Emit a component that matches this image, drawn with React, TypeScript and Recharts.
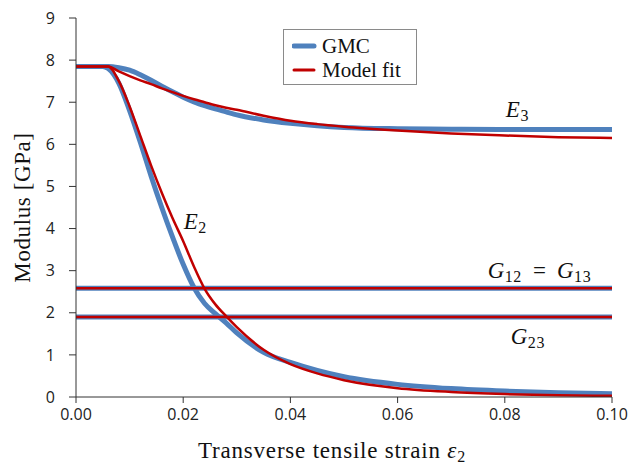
import React from 'react';
import { LineChart, Line, XAxis, YAxis, Legend, ReferenceDot } from 'recharts';

// strain grid (transverse tensile strain ε2)
const strain = [0, 0.005, 0.006, 0.008, 0.01, 0.012, 0.014, 0.016, 0.018, 0.02, 0.022, 0.024, 0.026, 0.028, 0.03, 0.035, 0.04, 0.045, 0.05, 0.06, 0.07, 0.08, 0.09, 0.1];
// GMC results
const gmcE2 = [7.85, 7.85, 7.8, 7.45, 6.8, 6.05, 5.25, 4.5, 3.8, 3.15, 2.6, 2.22, 1.98, 1.76, 1.52, 1.06, 0.82, 0.63, 0.48, 0.3, 0.2, 0.14, 0.1, 0.08];
const gmcE3 = [7.85, 7.85, 7.85, 7.82, 7.76, 7.65, 7.52, 7.38, 7.25, 7.12, 7.01, 6.92, 6.84, 6.77, 6.7, 6.58, 6.5, 6.44, 6.4, 6.37, 6.36, 6.35, 6.35, 6.35];
// Model fit
const fitE2 = [7.85, 7.85, 7.85, 7.5, 6.9, 6.2, 5.5, 4.85, 4.25, 3.7, 3.1, 2.57, 2.2, 1.92, 1.66, 1.12, 0.78, 0.56, 0.4, 0.21, 0.12, 0.07, 0.04, 0.03];
const fitE3 = [7.85, 7.85, 7.85, 7.73, 7.62, 7.52, 7.43, 7.33, 7.24, 7.15, 7.07, 7.0, 6.93, 6.87, 6.82, 6.68, 6.56, 6.48, 6.42, 6.33, 6.26, 6.21, 6.17, 6.15];
// shear moduli (constant)
const gmcG12 = 2.58;
const gmcG23 = 1.9;
const fitG12 = 2.58;
const fitG23 = 1.9;

const xTicks = [0, 0.02, 0.04, 0.06, 0.08, 0.1];
const yTicks = [0, 1, 2, 3, 4, 5, 6, 7, 8, 9];
const seriesNames = ['GMC', 'Model fit'];

const data = strain.map((s, i) => ({
  s,
  gmcE2: gmcE2[i],
  gmcE3: gmcE3[i],
  fitE2: fitE2[i],
  fitE3: fitE3[i],
  gmcG12,
  gmcG23,
  fitG12,
  fitG23,
}));

const BLUE = '#4F81BD';
const RED = '#C00000';
const SERIF = '"Liberation Serif", "Times New Roman", serif';
const SANS = '"Open Sans", "Noto Sans", sans-serif';

const mathLabel = (main: string, sub: string, rest?: { main: string; sub: string }) => (props: any) => {
  const vb = props.viewBox || {};
  const x = (vb.x ?? 0) + (vb.width ?? 0) / 2;
  const y = (vb.y ?? 0) + (vb.height ?? 0) / 2;
  return (
    <text x={x} y={y} fontFamily={SERIF} fontSize={23} fill="#111" textAnchor="start">
      <tspan fontStyle="italic">{main}</tspan>
      <tspan fontSize={16} dy={4} dx={0.5} letterSpacing={0.6}>{sub}</tspan>
      {rest ? (
        <>
          <tspan dy={-4} dx={11}>=</tspan>
          <tspan fontStyle="italic" dx={11}>{rest.main}</tspan>
          <tspan fontSize={16} dy={4} dx={0.5} letterSpacing={0.6}>{rest.sub}</tspan>
        </>
      ) : null}
    </text>
  );
};

const XTitle = (props: any) => {
  const vb = props.viewBox;
  return (
    <text x={vb.x + vb.width / 2 - 12} y={vb.y + 61} fontFamily={SERIF} fontSize={23} letterSpacing={0.8} fill="#111" textAnchor="middle">
      Transverse tensile strain <tspan fontStyle="italic">ε</tspan>
      <tspan fontSize={16} dy={4}>2</tspan>
    </text>
  );
};

const YTitle = (props: any) => {
  const vb = props.viewBox;
  const cx = 22;
  const cy = vb.y + vb.height / 2;
  return (
    <text x={cx} y={cy} transform={`rotate(-90 ${cx} ${cy})`} fontFamily={SERIF} fontSize={23} letterSpacing={0.6} fill="#111" textAnchor="middle" dominantBaseline="central">
      Modulus [GPa]
    </text>
  );
};

const renderLegend = () => (
  <div style={{ border: '1px solid #8a8a8a', boxSizing: 'border-box', width: 134, height: 56, background: '#fff', padding: '4px 0 0 8px' }}>
    {seriesNames.map((name, i) => (
      <div key={name} style={{ display: 'flex', alignItems: 'center', height: 24 }}>
        <svg width={30} height={10}>
          <line x1={2} y1={5} x2={22} y2={5} stroke={i === 0 ? BLUE : RED} strokeWidth={i === 0 ? 5 : 3} strokeLinecap="round" />
        </svg>
        <span style={{ fontFamily: SERIF, fontSize: 21, color: '#111', lineHeight: '24px' }}>{name}</span>
      </div>
    ))}
  </div>
);

export default function App() {
  return (
    <div style={{ position: 'absolute', left: 0, top: 0, width: 630, height: 467, background: '#fff' }}>
      <LineChart width={630} height={467} data={data} margin={{ top: 18, right: 18, bottom: 0, left: 0 }}>
        <XAxis
          dataKey="s"
          type="number"
          domain={[0, 0.1]}
          ticks={xTicks}
          tickFormatter={(v: number) => v.toFixed(2)}
          stroke="#333"
          tickSize={6}
          tickMargin={6}
          height={70}
          tick={{ fontFamily: SANS, fontSize: 16, fill: '#222' }}
          label={XTitle}
        />
        <YAxis
          type="number"
          domain={[0, 9]}
          ticks={yTicks}
          width={76}
          stroke="#333"
          tickSize={7}
          tickMargin={14}
          tick={{ fontFamily: SANS, fontSize: 16, fill: '#222' }}
          label={YTitle}
        />
        <Legend
          content={renderLegend}
          layout="vertical"
          align="center"
          verticalAlign="middle"
          wrapperStyle={{ left: 283, top: 29, width: 134, height: 56 }}
        />
        <Line dataKey="gmcE3" stroke={BLUE} strokeWidth={5} dot={false} type="monotone" isAnimationActive={false} legendType="none" />
        <Line dataKey="gmcE2" stroke={BLUE} strokeWidth={5} dot={false} type="monotone" isAnimationActive={false} legendType="none" />
        <Line dataKey="gmcG12" stroke={BLUE} strokeWidth={5} dot={false} type="linear" isAnimationActive={false} legendType="none" />
        <Line dataKey="gmcG23" stroke={BLUE} strokeWidth={5} dot={false} type="linear" isAnimationActive={false} legendType="none" />
        <Line dataKey="fitE3" stroke={RED} strokeWidth={2.5} dot={false} type="monotone" isAnimationActive={false} legendType="none" />
        <Line dataKey="fitE2" stroke={RED} strokeWidth={2.5} dot={false} type="monotone" isAnimationActive={false} legendType="none" />
        <Line dataKey="fitG12" stroke={RED} strokeWidth={2.5} dot={false} type="linear" isAnimationActive={false} legendType="none" />
        <Line dataKey="fitG23" stroke={RED} strokeWidth={2.5} dot={false} type="linear" isAnimationActive={false} legendType="none" />
        <ReferenceDot x={0.0802} y={6.65} r={0} fill="none" stroke="none" label={mathLabel('E', '3')} />
        <ReferenceDot x={0.0201} y={3.98} r={0} fill="none" stroke="none" label={mathLabel('E', '2')} />
        <ReferenceDot x={0.0768} y={2.83} r={0} fill="none" stroke="none" label={mathLabel('G', '12', { main: 'G', sub: '13' })} />
        <ReferenceDot x={0.0811} y={1.26} r={0} fill="none" stroke="none" label={mathLabel('G', '23')} />
      </LineChart>
    </div>
  );
}
